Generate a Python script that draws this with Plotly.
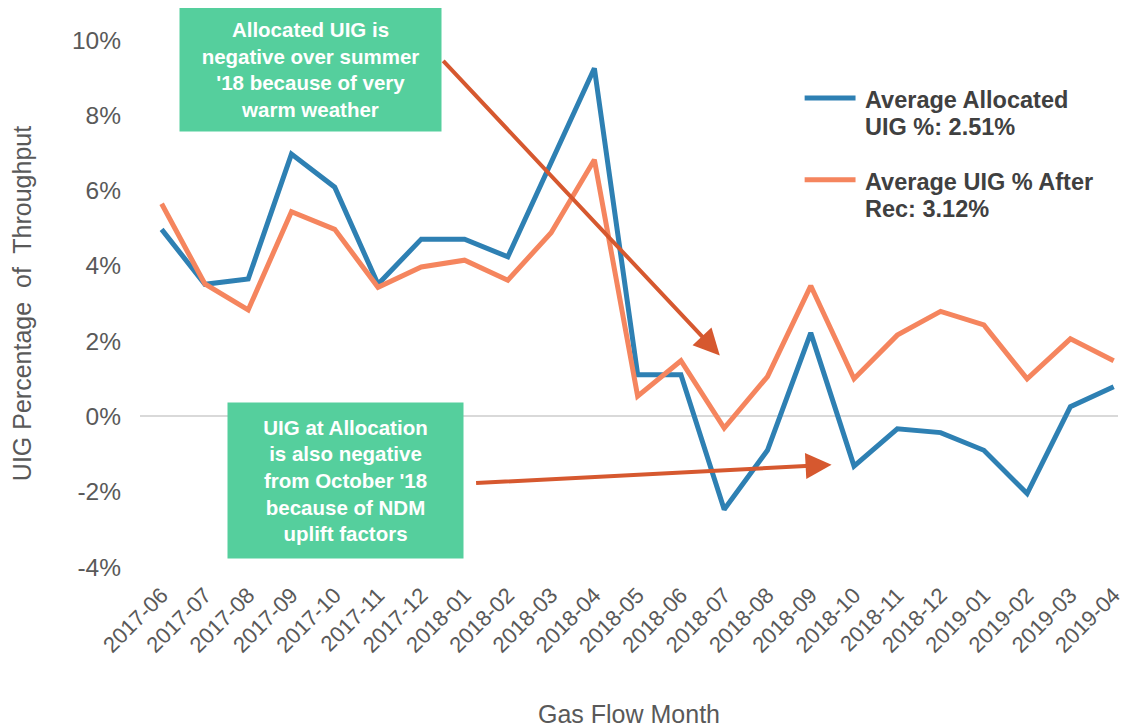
import plotly.graph_objects as go

months = ["2017-06", "2017-07", "2017-08", "2017-09", "2017-10", "2017-11", "2017-12",
          "2018-01", "2018-02", "2018-03", "2018-04", "2018-05", "2018-06", "2018-07",
          "2018-08", "2018-09", "2018-10", "2018-11", "2018-12", "2019-01", "2019-02",
          "2019-03", "2019-04"]
allocated_uig = [4.97, 3.51, 3.65, 6.97, 6.09, 3.51, 4.71, 4.71, 4.24, 6.71, 9.25, 1.11,
                 1.11, -2.47, -0.90, 2.22, -1.32, -0.33, -0.43, -0.90, -2.05, 0.26, 0.79]
after_rec_uig = [5.65, 3.52, 2.83, 5.44, 4.97, 3.43, 3.97, 4.15, 3.62, 4.88, 6.82, 0.54,
                 1.48, -0.31, 1.06, 3.47, 1.00, 2.16, 2.79, 2.43, 1.00, 2.06, 1.48]
y_tick_values = [-4, -2, 0, 2, 4, 6, 8, 10]
y_tick_labels = ["-4%", "-2%", "0%", "2%", "4%", "6%", "8%", "10%"]
series_names = ["Average Allocated<br>UIG %: 2.51%", "Average UIG % After<br>Rec: 3.12%"]
note_top = "Allocated UIG is<br>negative over summer<br>'18 because of very<br>warm weather"
note_bottom = ("UIG at Allocation<br>is also negative<br>from October '18<br>"
               "because of NDM<br>uplift factors")

BLUE = "#2E80B3"
ORANGE = "#F5855E"
ARROW = "#D6582F"
GREEN = "#55CF9D"
GREY = "#595959"
FONT = "Liberation Sans, Arial, sans-serif"

OFF = 8  # page body margin
W, H = 1129, 728
PLOT_L, PLOT_R, PLOT_T, PLOT_B = 140, 1120, 40, 568  # on screen
ML, MT = PLOT_L - OFF, PLOT_T - OFF
MR = W - (PLOT_R - OFF)
MB = H - (PLOT_B - OFF)
PW, PH = PLOT_R - PLOT_L, PLOT_B - PLOT_T


def px(x):
    return (x - PLOT_L) / PW


def py(y):
    return (PLOT_B - y) / PH


fig = go.Figure()
fig.add_trace(go.Scatter(x=months, y=allocated_uig, mode="lines", name=series_names[0],
                         line=dict(color=BLUE, width=5), showlegend=False))
fig.add_trace(go.Scatter(x=months, y=after_rec_uig, mode="lines", name=series_names[1],
                         line=dict(color=ORANGE, width=5), showlegend=False))

shapes = []
annotations = []
# manual legend
for name, color, ymid in [(series_names[0], BLUE, 98), (series_names[1], ORANGE, 180)]:
    shapes.append(dict(type="line", xref="paper", yref="paper", x0=px(806), x1=px(857),
                       y0=py(ymid), y1=py(ymid), line=dict(color=color, width=5)))
    for i, line in enumerate(name.split("<br>")):
        annotations.append(dict(xref="paper", yref="paper", x=px(864), y=py(ymid + 2 + 27 * i),
                                xanchor="left", yanchor="middle", align="left",
                                showarrow=False, text="<b>" + line + "</b>",
                                font=dict(family=FONT, size=23.5, color="#404040")))

# note boxes
annotations.append(dict(xref="paper", yref="paper", x=px(310.5), y=py(69.8),
                        xanchor="center", yanchor="middle", width=261, height=123,
                        bgcolor=GREEN, borderpad=0, showarrow=False, align="center",
                        text="<b>" + note_top + "</b>",
                        font=dict(family=FONT, size=20.5, color="white")))
annotations.append(dict(xref="paper", yref="paper", x=px(345.5), y=py(481.5),
                        xanchor="center", yanchor="middle", width=235, height=155,
                        bgcolor=GREEN, borderpad=0, showarrow=False, align="center",
                        text="<b>" + note_bottom + "</b>",
                        font=dict(family=FONT, size=20.5, color="white")))
# arrows
annotations.append(dict(xref="paper", yref="paper", x=px(721), y=py(356), text="",
                        showarrow=True, ax=443 - 721, ay=60 - 356, arrowhead=2,
                        arrowsize=1.3, arrowwidth=4, arrowcolor=ARROW))
annotations.append(dict(xref="paper", yref="paper", x=px(833), y=py(465.5), text="",
                        showarrow=True, ax=476 - 833, ay=484 - 465.5, arrowhead=2,
                        arrowsize=1.3, arrowwidth=4, arrowcolor=ARROW))

fig.update_layout(
    width=W, height=H,
    margin=dict(l=ML, r=MR, t=MT, b=MB),
    paper_bgcolor="white", plot_bgcolor="white",
    font=dict(family=FONT, color=GREY),
    shapes=shapes, annotations=annotations,
    showlegend=False,
)
fig.update_xaxes(type="category", range=[-0.5, 22.1], showgrid=False, zeroline=False,
                 showline=False, tickangle=-45, tickfont=dict(size=22, color=GREY),
                 ticklabelstandoff=10,
                 title=dict(text="Gas Flow Month", font=dict(size=25, color=GREY), standoff=49))
fig.update_yaxes(range=[-4, 10], tickmode="array", tickvals=y_tick_values,
                 ticktext=y_tick_labels, showgrid=False, zeroline=True,
                 zerolinecolor="#D9D9D9", zerolinewidth=2, showline=False,
                 tickfont=dict(size=24.5, color=GREY), ticklabelstandoff=18,
                 title=dict(text="UIG Percentage  of  Throughput",
                            font=dict(size=25, color=GREY), standoff=33))

fig.write_html("out.html")
